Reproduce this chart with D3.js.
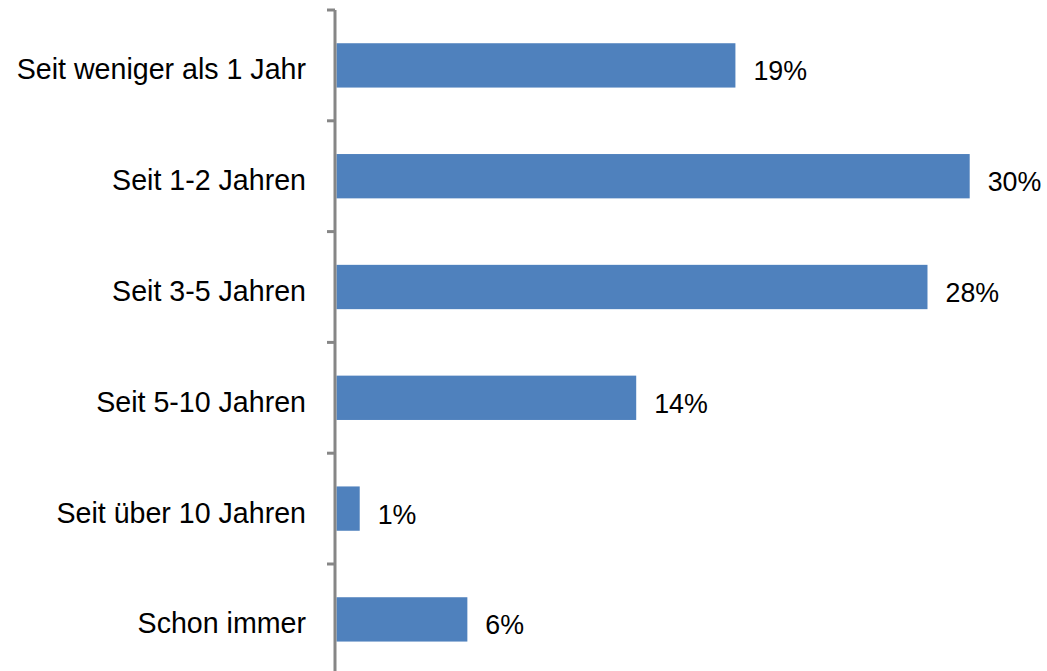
<!DOCTYPE html>
<html>
<head>
<meta charset="utf-8">
<script src="https://cdn.jsdelivr.net/npm/d3@7"></script>
<style>
  body { margin: 0; background: #fff; }
  text { font-family: "Liberation Sans", Arial, sans-serif; fill: #000; }
</style>
</head>
<body>
<svg width="1047" height="671"></svg>
<script>
var categories = ["Seit weniger als 1 Jahr", "Seit 1-2 Jahren", "Seit 3-5 Jahren", "Seit 5-10 Jahren", "Seit über 10 Jahren", "Schon immer"];
var values = [0.189, 0.300, 0.280, 0.142, 0.011, 0.062];

var svg = d3.select("svg"),
    axisX = 335,
    plotTop = 10,
    step = 110.8;

var x = d3.scaleLinear().domain([0, 0.3]).range([axisX + 1.5, 969.7]);

var y = d3.scaleBand()
    .domain(categories)
    .range([plotTop, plotTop + step * categories.length])
    .paddingInner(0.6)
    .paddingOuter(0.3);

var fmt = d3.format(".0%");

// bars
svg.selectAll("rect.bar")
    .data(categories)
    .enter()
    .append("rect")
    .attr("class", "bar")
    .attr("x", x(0))
    .attr("y", function(d) { return y(d); })
    .attr("width", function(d, i) { return x(values[i]) - x(0); })
    .attr("height", y.bandwidth())
    .attr("fill", "#4f81bd");

// value labels
svg.selectAll("text.val")
    .data(categories)
    .enter()
    .append("text")
    .attr("class", "val")
    .attr("x", function(d, i) { return x(values[i]) + 18; })
    .attr("y", function(d) { return y(d) + y.bandwidth() / 2 + 15; })
    .style("font-size", "26.8px")
    .text(function(d, i) { return fmt(values[i]); });

// category labels
svg.selectAll("text.cat")
    .data(categories)
    .enter()
    .append("text")
    .attr("class", "cat")
    .attr("x", 306)
    .attr("y", function(d) { return y(d) + y.bandwidth() / 2 + 14; })
    .attr("text-anchor", "end")
    .style("font-size", "28.6px")
    .text(function(d) { return d; });

// axis line + ticks
var ticks = d3.range(categories.length + 1).map(function(i) { return plotTop + i * y.step(); });

svg.append("line")
    .attr("x1", axisX).attr("x2", axisX)
    .attr("y1", plotTop).attr("y2", ticks[ticks.length - 1])
    .attr("stroke", "#868686")
    .attr("stroke-width", 3);

svg.selectAll("line.tick")
    .data(ticks)
    .enter()
    .append("line")
    .attr("class", "tick")
    .attr("x1", axisX - 8).attr("x2", axisX)
    .attr("y1", function(d) { return d; })
    .attr("y2", function(d) { return d; })
    .attr("stroke", "#868686")
    .attr("stroke-width", 3);
</script>
</body>
</html>
